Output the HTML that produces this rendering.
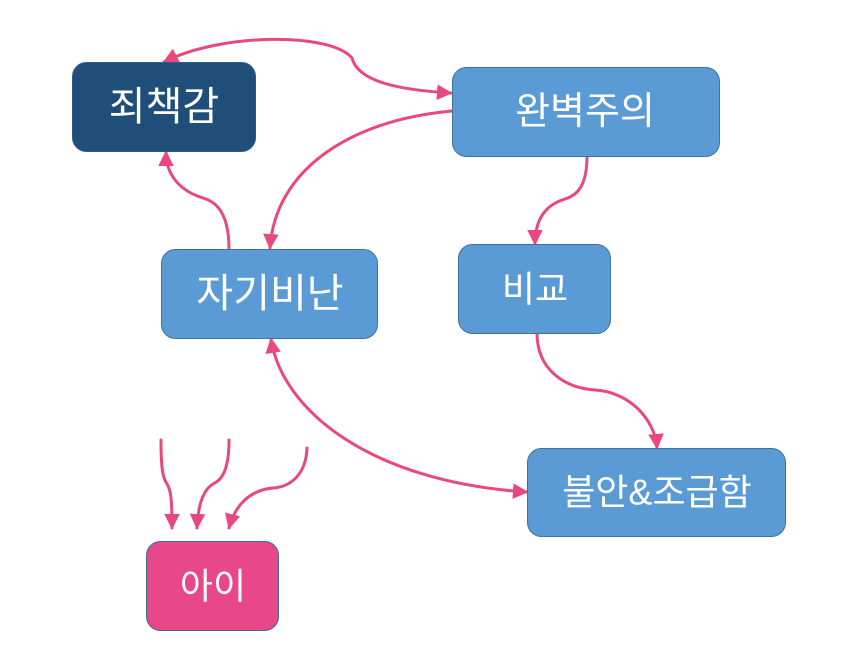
<!DOCTYPE html>
<html><head><meta charset="utf-8"><style>
html,body{margin:0;padding:0;background:#fff;}
svg{display:block;}
text{font-family:"Liberation Sans","Noto Sans CJK KR",sans-serif;fill:#fff;font-weight:400;}
</style></head><body>
<svg width="858" height="670" viewBox="0 0 858 670" xmlns="http://www.w3.org/2000/svg">
<defs>
<marker id="ah" viewBox="0 0 10 10" refX="9" refY="5" markerWidth="5.2" markerHeight="5.2" markerUnits="strokeWidth" orient="auto-start-reverse">
<path d="M0,0 L10,5 L0,10 z" fill="#E8487F"/>
</marker>
</defs>
<g fill="none" stroke="#E8487F" stroke-width="3" stroke-linecap="round">
<path d="M164,62 C220,33 330,32 352,58 C358,82 400,90 451,93" marker-start="url(#ah)" marker-end="url(#ah)"/>
<path d="M452,111 C350,120 275,170 270,248" marker-end="url(#ah)"/>
<path d="M229,249 C229,205 210,200 200,197 C180,190 166,175 166,152" marker-end="url(#ah)"/>
<path d="M587,156 C587,185 578,195 565,199 C545,205 535,220 535,244" marker-end="url(#ah)"/>
<path d="M537,333 C537,370 565,388 595,390 C630,392 655,420 657,448" marker-end="url(#ah)"/>
<path d="M271,339 C282,410 370,482 527,492" marker-start="url(#ah)" marker-end="url(#ah)"/>
<path d="M161,440 C161,470 163,478 167,484 C171,490 172,500 172,528" marker-end="url(#ah)"/>
<path d="M229,440 C229,470 222,480 213,484 C203,490 198,505 197,528" marker-end="url(#ah)"/>
<path d="M307,448 C306,475 290,487 273,488 C250,490 235,505 229,528" marker-end="url(#ah)"/>
</g>
<g stroke="#41719C" stroke-width="1">
<rect x="72.5" y="62.5" width="183" height="89" rx="14" fill="#1F4E79" stroke="#2E5C8A"/>
<rect x="452.5" y="67.5" width="267" height="89" rx="14" fill="#5B9BD5"/>
<rect x="161.5" y="249.5" width="216" height="89" rx="14" fill="#5B9BD5"/>
<rect x="458.5" y="244.5" width="152" height="89" rx="14" fill="#5B9BD5"/>
<rect x="527.5" y="448.5" width="258" height="88" rx="14" fill="#5B9BD5"/>
<rect x="146.5" y="541.5" width="132" height="89" rx="14" fill="#E8488A" stroke="#3D6A99"/>
</g>
<g text-anchor="middle" dominant-baseline="central">
<text x="164" y="107" font-size="40">죄책감</text>
<text x="585" y="112" font-size="38">완벽주의</text>
<text x="270" y="294" font-size="40">자기비난</text>
<text x="535" y="289" font-size="36">비교</text>
<text x="657" y="492" font-size="36">불안&amp;조급함</text>
<text x="213" y="586" font-size="36">아이</text>
</g>
</svg>
</body></html>
